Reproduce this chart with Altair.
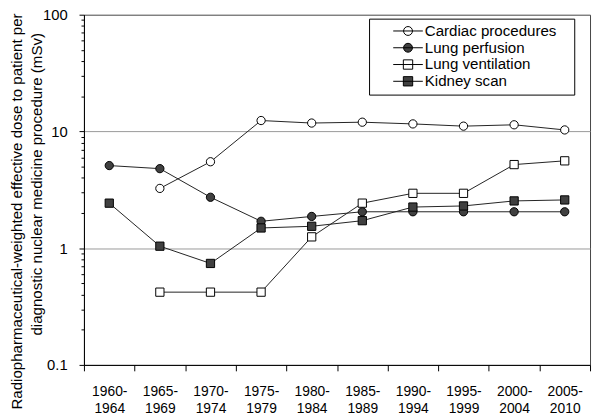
import altair as alt
import pandas as pd

periods = ["1960-1964", "1965-1969", "1970-1974", "1975-1979", "1980-1984",
           "1985-1989", "1990-1994", "1995-1999", "2000-2004", "2005-2010"]
series_names = ["Cardiac procedures", "Lung perfusion", "Lung ventilation", "Kidney scan"]
cardiac = [None, 3.25, 5.5, 12.4, 11.8, 12.0, 11.6, 11.1, 11.4, 10.3]
lung_perfusion = [5.1, 4.8, 2.73, 1.70, 1.87, 2.05, 2.05, 2.05, 2.05, 2.05]
lung_ventilation = [None, 0.42, 0.42, 0.42, 1.25, 2.43, 2.95, 2.95, 5.2, 5.6]
kidney = [2.43, 1.04, 0.74, 1.49, 1.54, 1.72, 2.25, 2.30, 2.54, 2.59]

rows = []
for name, vals in zip(series_names, [cardiac, lung_perfusion, lung_ventilation, kidney]):
    for p, v in zip(periods, vals):
        if v is not None:
            rows.append({"period": p, "series": name, "value": v})
df = pd.DataFrame(rows)

FONT = "Liberation Sans"
DARK = "#404040"
NB = "\u00a0"
ZW = "\u200b"  # keeps padding spaces from being trimmed

# y-axis tick positions (major decades + minor 2..9)
tick_vals = []
for e in [-1, 0, 1]:
    for m in range(1, 10):
        tick_vals.append(round(m * 10 ** e, 10))
tick_vals.append(100.0)

is_major = "datum.value == 0.1 || datum.value == 1 || datum.value == 10 || datum.value == 100"

x_enc = alt.X("period:N", sort=periods,
              scale=alt.Scale(type="band", domain=periods, paddingInner=0, paddingOuter=0),
              axis=alt.Axis(title=None, labelAngle=0, tickBand="extent", tickSize=6,
                            labelPadding=14, labelFont=FONT, labelFontSize=14,
                            labelColor="black", tickColor="black", domainColor="black",
                            labelLineHeight=17, grid=False,
                            labelExpr="[slice(datum.label, 0, 5), slice(datum.label, 5)]"))

y_enc = alt.Y("value:Q",
              scale=alt.Scale(type="log", domain=[0.1, 100]),
              axis=alt.Axis(values=tick_vals,
                            labelExpr=f"({is_major}) ? (datum.value == 0.1 ? '0.1' : format(datum.value, 'd')) : ''",
                            tickSize={"condition": {"test": is_major, "value": 5}, "value": 3},
                            gridOpacity={"condition": {"test": "datum.value == 1 || datum.value == 10", "value": 1}, "value": 0},
                            gridColor="#999999", grid=True,
                            labelFont=FONT, labelFontSize=15, labelColor="black",
                            labelPadding=12, tickColor="black", domainColor="black",
                            title=["Radiopharmaceutical-weighted effective dose to patient per",
                                   ZW + NB * 13 + "diagnostic nuclear medicine procedure (mSv)"],
                            titleFont=FONT, titleFontSize=15.3, titleFontWeight="normal",
                            titleColor="black", titleLineHeight=20,
                            titleX=-68, titleY=199, titleBaseline="middle",
                            titleAlign="center", titleAngle=-90))

lines = alt.Chart(df).mark_line(color="#222222", strokeWidth=1).encode(
    x=x_enc, y=y_enc, detail="series:N")

points = alt.Chart(df).mark_point(opacity=1, stroke="black", strokeWidth=1).encode(
    x=x_enc, y=y_enc,
    shape=alt.Shape("series:N", scale=alt.Scale(domain=series_names,
                    range=["circle", "circle", "square", "square"]), legend=None),
    fill=alt.Fill("series:N", scale=alt.Scale(domain=series_names,
                  range=["white", DARK, "white", DARK]), legend=None),
    size=alt.Size("series:N", scale=alt.Scale(domain=series_names,
                  range=[70, 70, 105, 105]), legend=None),
)

circ_path = "M-2,0H2M0.6,0A0.6,0.6,0,1,1,-0.6,0A0.6,0.6,0,1,1,0.6,0Z"
sq_path = "M-2,0H2M-0.63,-0.63H0.63V0.63H-0.63Z"

legend_props = dict(orient="none", legendX=289, legendY=4, title=None,
                    padding=4.5, rowPadding=0, symbolSize=225, symbolOffset=27,
                    labelOffset=9, labelFont=FONT, labelFontSize=15.3,
                    labelColor="black", strokeColor="black", fillColor="white",
                    symbolStrokeColor="black", symbolStrokeWidth=1, symbolOpacity=1,
                    labelLimit=300, labelExpr=f"datum.label + '{NB * 3}{ZW}'")

legend_layer = alt.Chart(df).transform_filter("false").mark_point(
    opacity=1, strokeWidth=1).encode(
    x=x_enc, y=y_enc,
    shape=alt.Shape("series:N", scale=alt.Scale(domain=series_names,
                    range=[circ_path, circ_path, sq_path, sq_path]),
                    legend=alt.Legend(**legend_props)),
    fill=alt.Fill("series:N", scale=alt.Scale(domain=series_names,
                  range=["white", DARK, "white", DARK]),
                  legend=alt.Legend(**legend_props)),
    stroke=alt.Stroke("series:N", scale=alt.Scale(domain=series_names,
                      range=["black", "black", "black", "black"]),
                      legend=alt.Legend(**legend_props)),
)

chart = alt.layer(lines, points, legend_layer).resolve_scale(
    shape="independent", fill="independent", size="independent", stroke="independent"
).properties(
    width=513, height=355,
    autosize=alt.AutoSizeParams(type="none"),
    padding={"left": 77, "top": 4, "right": 2, "bottom": 49},
).configure_view(stroke="#444444", strokeWidth=1)

chart.save("out.html", embed_options={"renderer": "svg", "actions": False})
